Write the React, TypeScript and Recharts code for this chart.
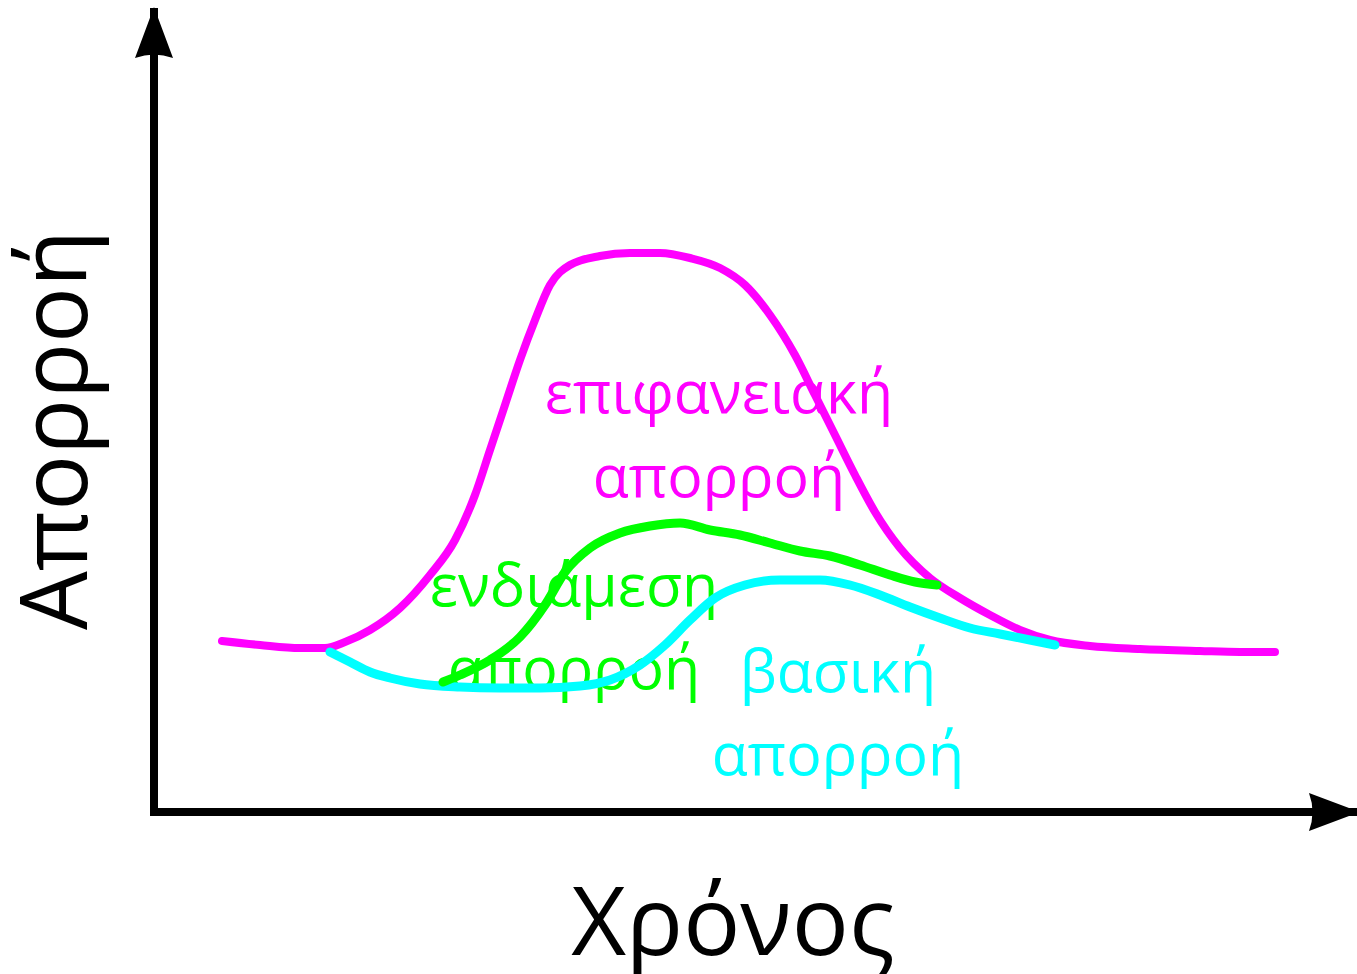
import { LineChart, Line, XAxis, YAxis } from 'recharts';

// Hydrograph components, time vs runoff (schematic units)
const surfaceTime = [68, 106, 146, 171, 191, 216, 246, 276, 301, 321, 336, 351, 366, 381, 396, 416, 446, 476, 506, 536, 566, 591, 616, 641, 661, 681, 701, 721, 746, 776, 806, 836, 866, 896, 936, 986, 1046, 1086, 1121];
const surfaceFlow = [171, 167, 164, 164, 170, 182, 204, 237, 272, 317, 362, 407, 452, 492, 527, 547, 556, 559, 559, 554, 544, 527, 497, 457, 417, 377, 337, 300, 264, 234, 214, 197, 182, 172, 166, 163, 161, 160, 160];

const interTime = [289, 306, 336, 366, 391, 411, 436, 466, 496, 526, 556, 586, 616, 646, 676, 706, 736, 761, 783];
const interFlow = [130, 137, 152, 175, 207, 240, 264, 279, 286, 289, 282, 277, 269, 261, 256, 247, 237, 230, 227];

const baseTime = [176, 196, 216, 236, 266, 306, 346, 386, 426, 456, 486, 511, 536, 561, 591, 626, 666, 696, 726, 756, 786, 816, 846, 876, 901];
const baseFlow = [160, 150, 140, 134, 128, 125, 124, 124, 126, 132, 147, 167, 192, 214, 227, 232, 232, 227, 217, 205, 194, 184, 178, 172, 167];

const zip = (t: number[], q: number[]) => t.map((time, i) => ({ time, flow: q[i] }));

const surfaceData = zip(surfaceTime, surfaceFlow);
const interData = zip(interTime, interFlow);
const baseData = zip(baseTime, baseFlow);

const FONT = '"Open Sans", sans-serif';

export default function App() {
  return (
    <div style={{ position: 'absolute', left: 0, top: 0, background: '#fff' }}>
      <LineChart
        width={1357}
        height={974}
        margin={{ top: 12, right: 2, left: 144, bottom: 152 }}
      >
        <defs>
          <marker
            id="axisArrow"
            viewBox="-52 -20 58 40"
            markerWidth={58}
            markerHeight={40}
            refX={-5}
            refY={0}
            markerUnits="userSpaceOnUse"
            orient="auto-start-reverse"
          >
            <path d="M 0 0 L -51 -19 Q -44 0 -51 19 Z" fill="#000" />
          </marker>
        </defs>
        <XAxis
          type="number"
          dataKey="time"
          domain={[0, 1201]}
          height={10}
          tick={false}
          tickLine={false}
          axisLine={{ stroke: '#000', strokeWidth: 8, strokeLinecap: 'square', markerEnd: 'url(#axisArrow)' }}
          allowDuplicatedCategory={false}
        />
        <YAxis
          type="number"
          dataKey="flow"
          domain={[0, 800]}
          width={10}
          tick={false}
          tickLine={false}
          axisLine={{ stroke: '#000', strokeWidth: 8, strokeLinecap: 'square', markerStart: 'url(#axisArrow)' }}
        />
        <Line
          data={surfaceData}
          dataKey="flow"
          type="monotone"
          stroke="#ff00ff"
          strokeWidth={8}
          strokeLinecap="round"
          dot={false}
          activeDot={false}
          isAnimationActive={false}
        />
        <Line
          data={baseData}
          dataKey="flow"
          type="monotone"
          stroke="#00ffff"
          strokeWidth={9}
          strokeLinecap="round"
          dot={false}
          activeDot={false}
          isAnimationActive={false}
        />
        <Line
          data={interData}
          dataKey="flow"
          type="monotone"
          stroke="#00ff00"
          strokeWidth={9}
          strokeLinecap="round"
          dot={false}
          activeDot={false}
          isAnimationActive={false}
        />

        <g fontFamily={FONT} textAnchor="middle">
          <text x={87} y={430} fontSize={93} fill="#000" transform="rotate(-90 87 430)">Απορροή</text>
          <text x={733} y={955} fontSize={95} fill="#000">Χρόνος</text>

          <text x={719} y={413} fontSize={59} fill="#ff00ff">επιφανειακή</text>
          <text x={719} y={497} fontSize={59} fill="#ff00ff">απορροή</text>

          <text x={574} y={606} fontSize={59} fill="#00ff00">ενδιάμεση</text>
          <text x={574} y={689} fontSize={59} fill="#00ff00">απορροή</text>

          <text x={838} y={692} fontSize={59} fill="#00ffff">βασική</text>
          <text x={838} y={775} fontSize={59} fill="#00ffff">απορροή</text>
        </g>
      </LineChart>
    </div>
  );
}
